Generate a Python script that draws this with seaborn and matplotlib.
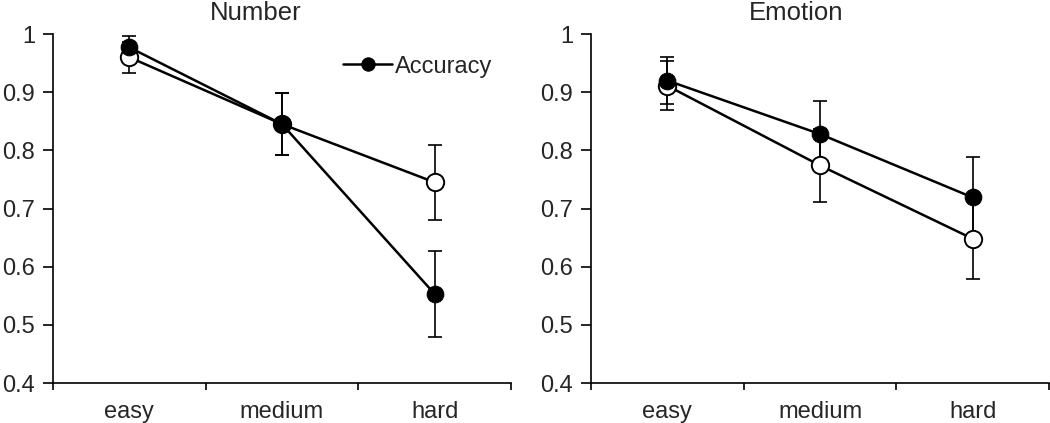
import matplotlib
matplotlib.use("Agg")
import matplotlib.pyplot as plt
import seaborn as sns
import numpy as np
import pandas as pd

difficulty = ["easy", "medium", "hard"]
panels = ["Number", "Emotion"]

number_filled = [0.977, 0.845, 0.553]
number_filled_err = [0.020, 0.053, 0.074]
number_open = [0.960, 0.845, 0.745]
number_open_err = [0.027, 0.053, 0.065]

emotion_filled = [0.920, 0.828, 0.719]
emotion_filled_err = [0.040, 0.057, 0.069]
emotion_open = [0.911, 0.774, 0.648]
emotion_open_err = [0.042, 0.062, 0.069]

yticks = [0.4, 0.5, 0.6, 0.7, 0.8, 0.9, 1.0]
ytick_labels = ["0.4", "0.5", "0.6", "0.7", "0.8", "0.9", "1"]

sns.set_theme(style="white")
plt.rcParams["font.family"] = ["Liberation Sans", "DejaVu Sans"]

fig = plt.figure(figsize=(10.5, 4.23), dpi=100)
ax_pos = [[53 / 1050, 40 / 423, 458 / 1050, 349 / 423],
          [591 / 1050, 40 / 423, 458 / 1050, 349 / 423]]
title_x = [256 / 1050, 796 / 1050]

series = {
    "Number": (number_filled, number_filled_err, number_open, number_open_err),
    "Emotion": (emotion_filled, emotion_filled_err, emotion_open, emotion_open_err),
}

for i, name in enumerate(panels):
    ax = fig.add_axes(ax_pos[i])
    f, fe, o, oe = series[name]
    df_f = pd.DataFrame({"difficulty": difficulty, "acc": f})
    df_o = pd.DataFrame({"difficulty": difficulty, "acc": o})
    xs = np.arange(len(difficulty))
    # error bars
    ax.errorbar(xs, o, yerr=oe, fmt="none", ecolor="black", elinewidth=1.2,
                capsize=5, capthick=1.2, zorder=1)
    ax.errorbar(xs, f, yerr=fe, fmt="none", ecolor="black", elinewidth=1.2,
                capsize=5, capthick=1.2, zorder=1)
    sns.lineplot(data=df_o, x="difficulty", y="acc", ax=ax, color="black",
                 linewidth=1.8, marker="o", markersize=12.5,
                 markerfacecolor="white", markeredgecolor="black",
                 markeredgewidth=1.4, sort=False, zorder=3)
    sns.lineplot(data=df_f, x="difficulty", y="acc", ax=ax, color="black",
                 linewidth=1.8, marker="o", markersize=12,
                 markerfacecolor="black", markeredgecolor="black",
                 sort=False, zorder=4,
                 label="Accuracy" if name == "Number" else None)

    ax.set_xlim(-0.5, 2.5)
    ax.set_ylim(0.4, 1.0)
    ax.set_yticks(yticks)
    ax.set_yticklabels(ytick_labels, fontsize=17)
    ax.set_xticks([-0.5, 0.5, 1.5, 2.5])
    ax.set_xticklabels([])
    ax.set_xticks(xs, minor=True)
    ax.set_xticklabels(difficulty, minor=True, fontsize=17)
    ax.tick_params(axis="x", which="major", direction="out", length=5,
                   width=1.2, color="black", bottom=True)
    ax.tick_params(axis="x", which="minor", length=0, pad=13, bottom=True)
    ax.tick_params(axis="y", direction="out", length=7, width=1.2,
                   color="black", left=True, pad=6)
    ax.set_xlabel("")
    ax.set_ylabel("")
    for s in ["top", "right"]:
        ax.spines[s].set_visible(False)
    for s in ["left", "bottom"]:
        ax.spines[s].set_color("#000000")
        ax.spines[s].set_linewidth(1.2)
    ax.grid(False)
    fig.text(title_x[i], 1 - 13 / 423, name, ha="center", va="center",
             fontsize=18.5)
    if name == "Number":
        ax.legend(loc="upper left", bbox_to_anchor=(0.612, 0.965), frameon=False,
                  fontsize=17, handlelength=2.1, handletextpad=0.1,
                  borderaxespad=0, markerscale=0.8)
    else:
        leg = ax.get_legend()
        if leg is not None:
            leg.remove()

fig.savefig("out.png", dpi=100)
